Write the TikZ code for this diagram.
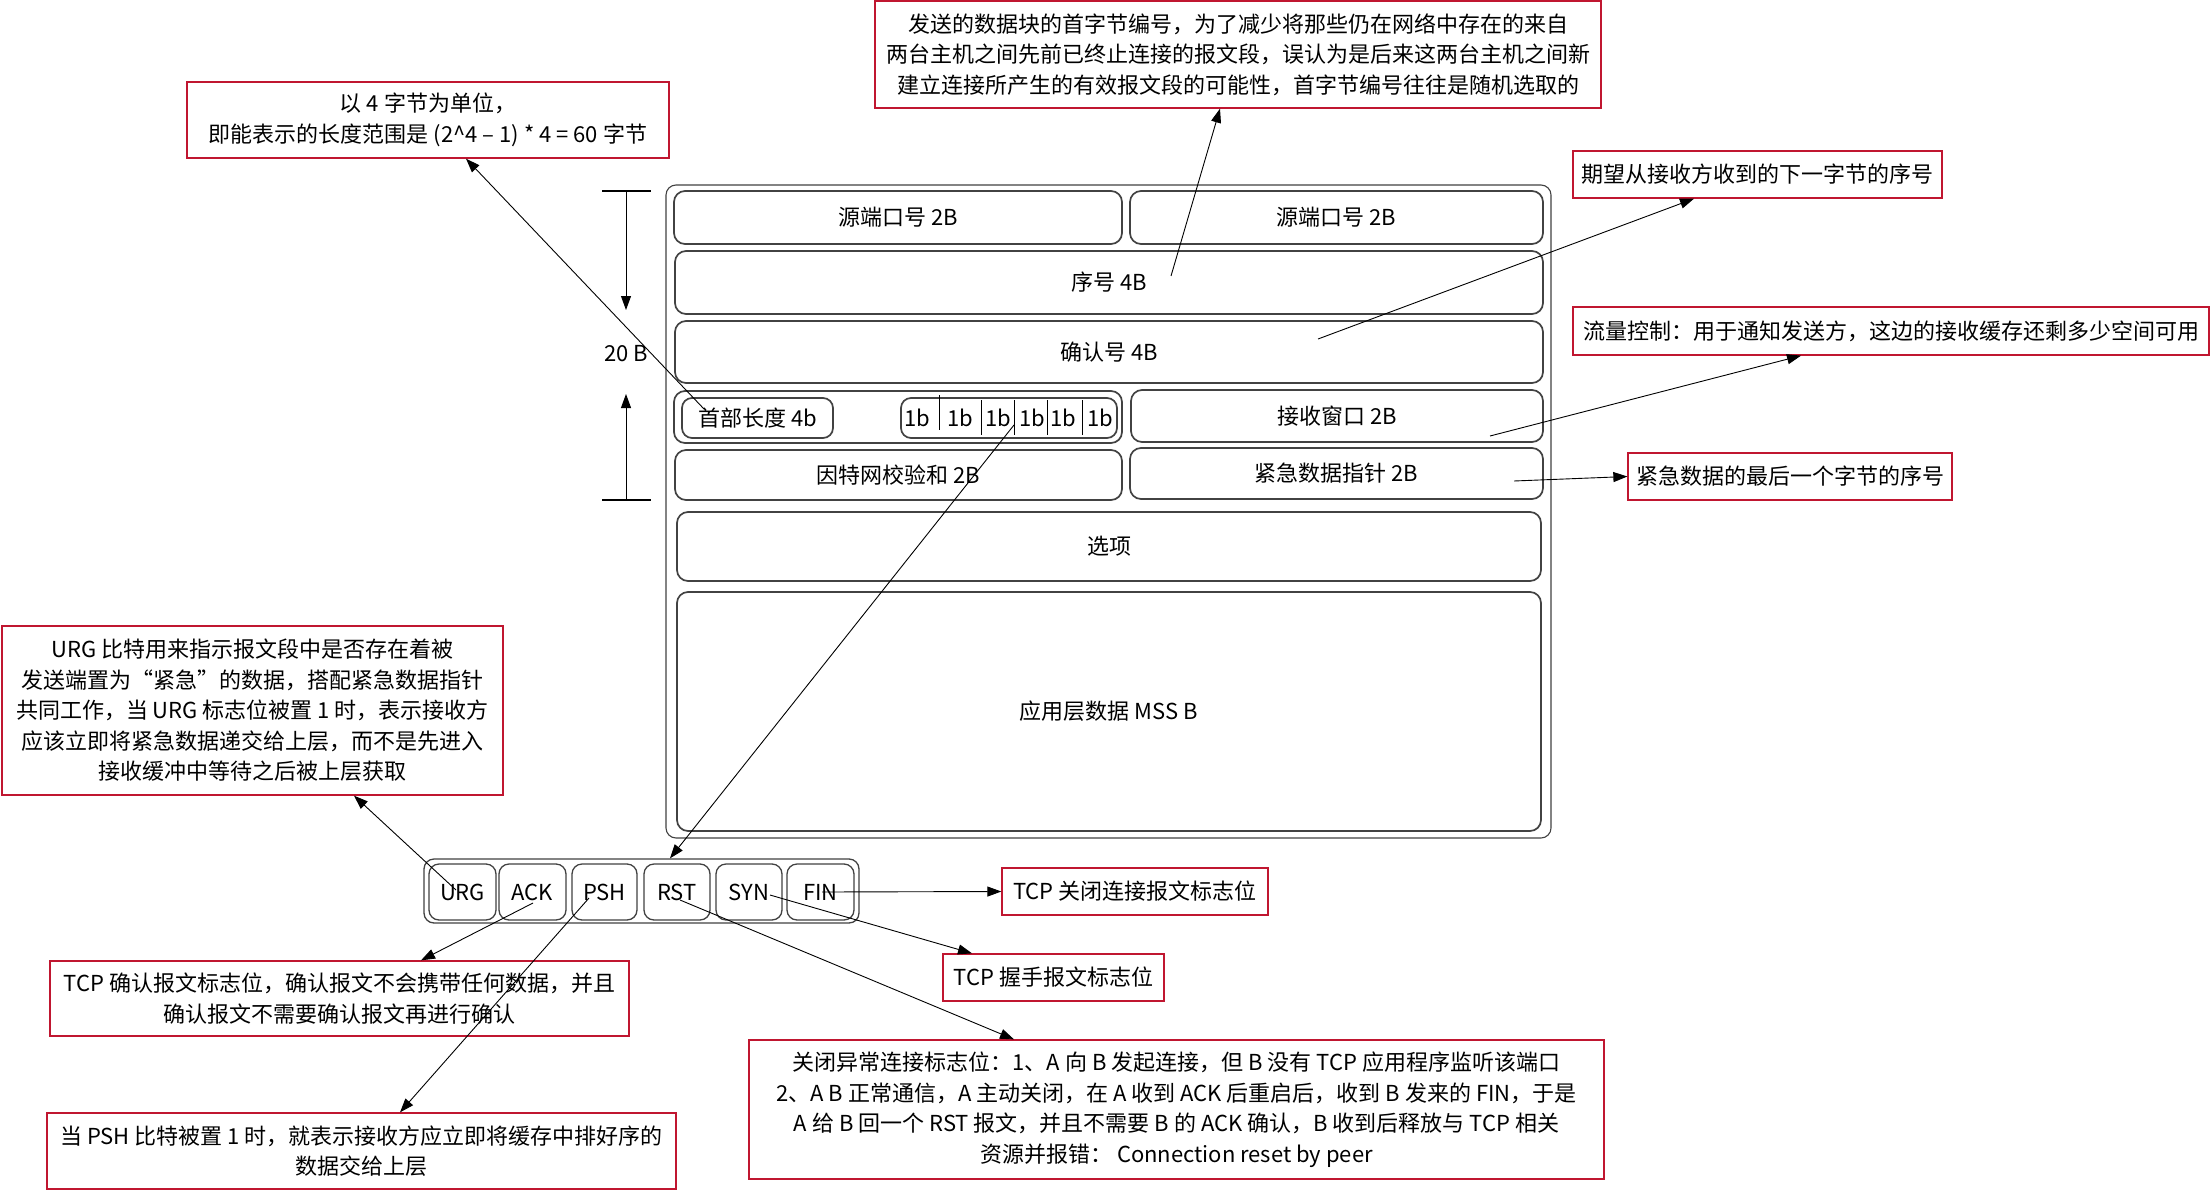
\documentclass[tikz,border=0pt]{standalone}
\usepackage{fontspec}
\setmainfont{Noto Sans CJK SC}
\usetikzlibrary{arrows.meta,fit}
\definecolor{rowgray}{RGB}{66,66,66}
\definecolor{notered}{RGB}{192,22,48}
\begin{document}
\begin{tikzpicture}[x=1pt,y=-1pt,
  txt/.style={font=\fontsize{22}{30.5}\selectfont, inner sep=0pt, align=center},
  field/.style={draw=rowgray, line width=1.7pt, rounded corners=11pt, inner sep=0pt},
  note/.style={draw=notered, line width=1.3pt, inner sep=0pt},
  link/.style={draw=black, line width=0.9pt, -{Triangle[length=14pt,width=10pt]}},
  tick/.style={draw=black, line width=1.4pt},
]
\useasboundingbox[fill=white] (0,0) rectangle (2211,1191);

% ---------- TCP header layout ----------
\node[draw=rowgray, line width=1.1pt, rounded corners=10pt, inner sep=0pt, fit={(666,185) (1551,838)}] (frame) {};

\node[field, fit={(674,191) (1122,244)}] (srcport) {};
\node[field, fit={(1130,191) (1543,244)}] (dstport) {};
\node[field, fit={(675,251) (1543,314)}] (seq) {};
\node[field, fit={(675,321) (1543,383)}] (ack) {};
\node[field, fit={(674,391) (1122,443)}] (lenflags) {};
\node[field, rounded corners=10pt, fit={(682,398) (833,438)}] (hdrlen) {};
\node[field, rounded corners=10pt, fit={(901,398) (1117,438)}] (bits) {};
\node[field, fit={(1131,390) (1543,442)}] (window) {};
\node[field, fit={(675,450) (1122,500)}] (checksum) {};
\node[field, fit={(1130,448) (1543,499)}] (urgptr) {};
\node[field, fit={(677,512) (1541,581)}] (options) {};
\node[field, fit={(677,592) (1541,831)}] (payload) {};

\node[txt] (srcport-t) at (srcport.center) {源端口号 2B};
\node[txt] (dstport-t) at (dstport.center) {源端口号 2B};
\node[txt] (seq-t) at (seq.center) {序号 4B};
\node[txt] (ack-t) at (ack.center) {确认号 4B};
\node[txt] (hdrlen-t) at (hdrlen.center) {首部长度 4b};
\node[txt] (window-t) at (window.center) {接收窗口 2B};
\node[txt] (checksum-t) at (checksum.center) {因特网校验和 2B};
\node[txt] (urgptr-t) at (urgptr.center) {紧急数据指针 2B};
\node[txt] (options-t) at (options.center) {选项};
\node[txt] (payload-t) at (payload.center) {应用层数据 MSS B};

% six one-bit cells
\foreach \x/\ya/\yb in {939/395/430, 981/400/435, 1014/400/435, 1047/400/435, 1082/400/435}
  \draw[black, line width=0.8pt] (\x,\ya) -- (\x,\yb);
\foreach \x [count=\i] in {917,960,998,1032,1063,1100}
  \node[txt] (bit\i) at (\x,418) {1b};

% 20 B span
\draw[tick] (602,191) -- (651,191);
\draw[tick] (602,500) -- (651,500);
\node[txt] (span) at (626,354) {20 B};
\coordinate (spantop) at (626,191);
\coordinate (spanbot) at (626,500);
\draw[link] (spantop) -- (626,310);
\draw[link] (spanbot) -- (626,394);

% ---------- flag bits ----------
\node[draw=rowgray, line width=1.3pt, rounded corners=10pt, inner sep=0pt, fit={(424,859) (859,923)}] (flags) {};
\foreach \n/\a/\b in {URG/429/496, ACK/499/566, PSH/572/637, RST/644/710, SYN/716/782, FIN/787/854}{
  \node[field, line width=1.3pt, rounded corners=10pt, fit={(\a,864) (\b,920)}] (f\n) {};
  \node[txt] (f\n-t) at (f\n.center) {\n};
}

% ---------- notes ----------
\node[note, fit={(187,82) (669,158)}] (nlen) {};
\node[txt] at (nlen.center) {以 4 字节为单位，\\即能表示的长度范围是 (2\^{}4 – 1) * 4 = 60 字节};
\node[note, fit={(875,1) (1601,108)}] (nseq) {};
\node[txt] at (nseq.center) {发送的数据块的首字节编号，为了减少将那些仍在网络中存在的来自\\两台主机之间先前已终止连接的报文段，误认为是后来这两台主机之间新\\建立连接所产生的有效报文段的可能性，首字节编号往往是随机选取的};
\node[note, fit={(1573,151) (1942,198)}] (nack) {};
\node[txt] at (nack.center) {期望从接收方收到的下一字节的序号};
\node[note, fit={(1573,307) (2209,355)}] (nwin) {};
\node[txt] at (nwin.center) {流量控制：用于通知发送方，这边的接收缓存还剩多少空间可用};
\node[note, fit={(1628,453) (1952,500)}] (nurgp) {};
\node[txt] at (nurgp.center) {紧急数据的最后一个字节的序号};
\node[note, fit={(2,626) (503,795)}] (nurg) {};
\node[txt] at (nurg.center) {URG 比特用来指示报文段中是否存在着被\\发送端置为“紧急”的数据，搭配紧急数据指针\\共同工作，当 URG 标志位被置 1 时，表示接收方\\应该立即将紧急数据递交给上层，而不是先进入\\接收缓冲中等待之后被上层获取};
\node[note, fit={(50,961) (629,1036)}] (nackf) {};
\node[txt] at (nackf.center) {TCP 确认报文标志位，确认报文不会携带任何数据，并且\\确认报文不需要确认报文再进行确认};
\node[note, fit={(47,1113) (676,1189)}] (npsh) {};
\node[txt] at (npsh.center) {当 PSH 比特被置 1 时，就表示接收方应立即将缓存中排好序的\\数据交给上层};
\node[note, fit={(1002,868) (1268,915)}] (nfin) {};
\node[txt] at (nfin.center) {TCP 关闭连接报文标志位};
\node[note, fit={(943,954) (1164,1001)}] (nsyn) {};
\node[txt] at (nsyn.center) {TCP 握手报文标志位};
\node[note, fit={(749,1040) (1604,1179)}] (nrst) {};
\node[txt] at (nrst.center) {关闭异常连接标志位：1、A 向 B 发起连接，但 B 没有 TCP 应用程序监听该端口\\2、A B 正常通信，A 主动关闭，在 A 收到 ACK 后重启后，收到 B 发来的 FIN，于是\\A 给 B 回一个 RST 报文，并且不需要 B 的 ACK 确认，B 收到后释放与 TCP 相关\\资源并报错： Connection reset by peer};

% ---------- connectors ----------
\coordinate (pLen) at (704,409);
\coordinate (pSeq) at (1171,276);
\coordinate (pAck) at (1318,339);
\coordinate (pWin) at (1490,436);
\coordinate (pUrgp) at (1514,481);
\coordinate (pBits) at (1014,425);
\coordinate (pURG) at (456,890);
\coordinate (pACK) at (533,903);
\coordinate (pPSH) at (589,898);
\coordinate (pRST) at (680,900);
\coordinate (pSYN) at (770,895);
\coordinate (pFIN) at (822,892);

\draw[link] (pLen) -- (nlen.south -| 466,0);
\draw[link] (pSeq) -- (nseq.south -| 1220,0);
\draw[link] (pAck) -- (nack.south -| 1694,0);
\draw[link] (pWin) -- (nwin.south -| 1801,0);
\draw[link] (pUrgp) -- (nurgp.west);
\draw[link] (pBits) -- (flags.north -| 670,0);
\draw[link] (pURG) -- (nurg.south -| 354,0);
\draw[link] (pACK) -- (nackf.north -| 421,0);
\draw[link] (pPSH) -- (npsh.north -| 400,0);
\draw[link] (pRST) -- (nrst.north -| 1014,0);
\draw[link] (pSYN) -- (nsyn.north -| 972,0);
\draw[link] (pFIN) -- (nfin.west);
\end{tikzpicture}
\end{document}
